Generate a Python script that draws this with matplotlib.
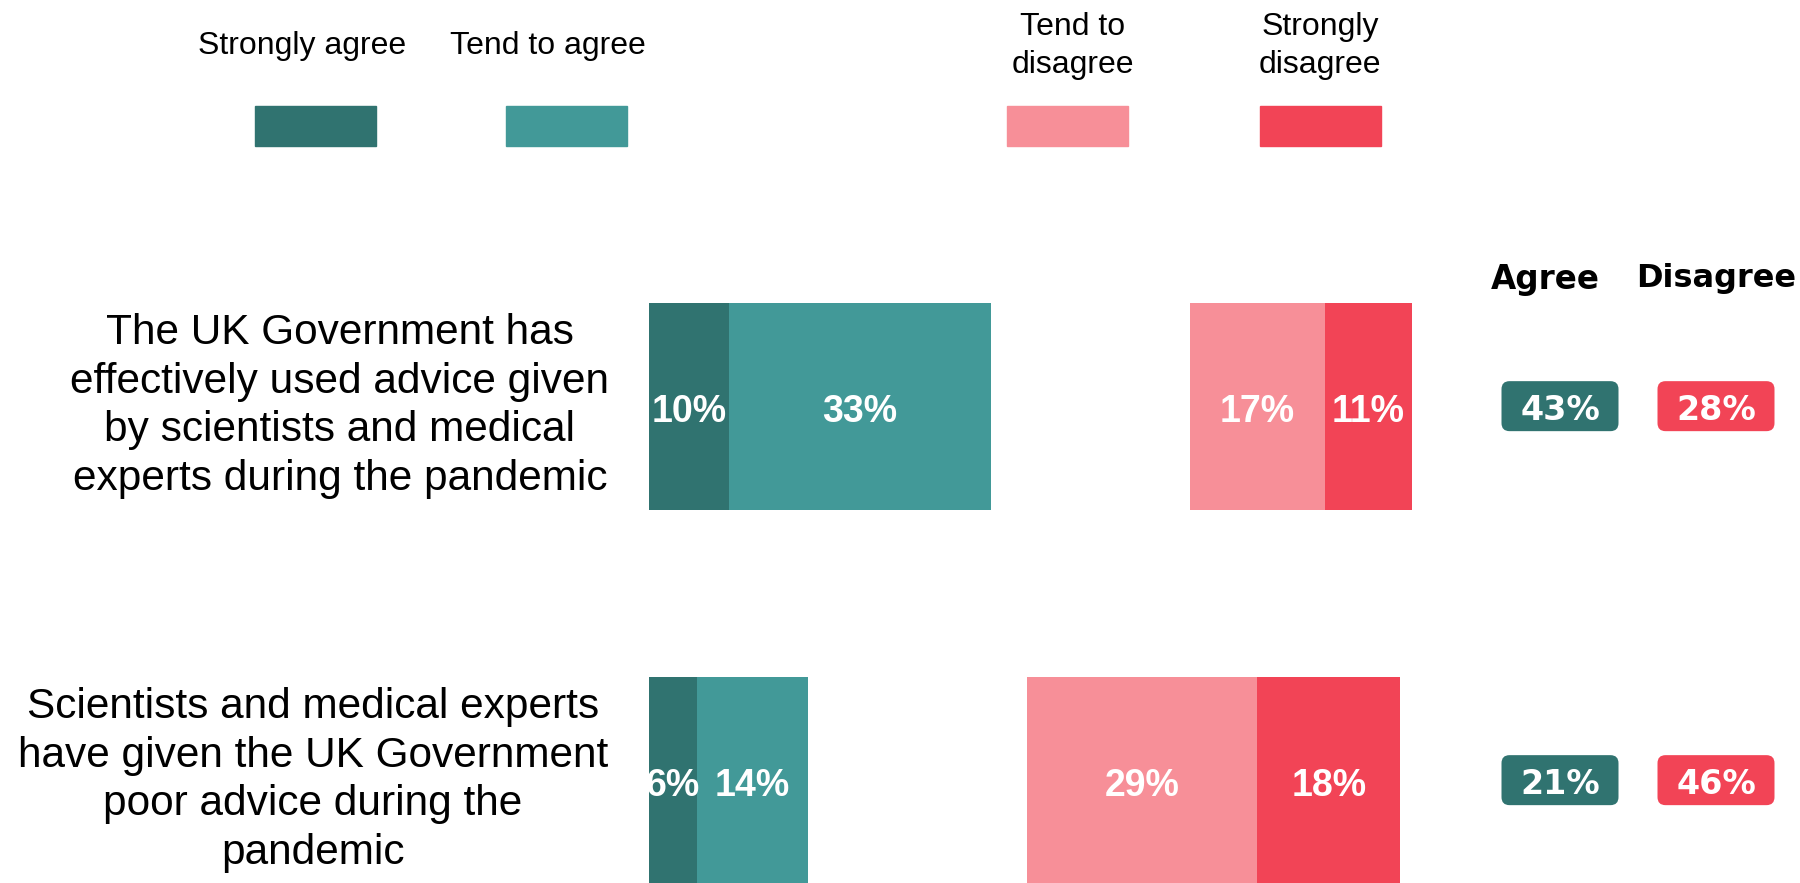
import numpy as np
import matplotlib.pyplot as plt
from matplotlib.patches import Rectangle, FancyBboxPatch
from matplotlib.transforms import blended_transform_factory

# data
questions = ['The UK Government has\neffectively used advice given\nby scientists and medical\nexperts during the pandemic',
             'Scientists and medical experts\nhave given the UK Government\npoor advice during the\npandemic']
categories = ['Strongly agree', 'Tend to agree', 'Tend to\ndisagree', 'Strongly\ndisagree']
strongly_agree = [10, 6]
tend_agree = [33, 14]
neither = [25, 27.5]  # not shown, leaves the gap
tend_disagree = [17, 29]
strongly_disagree = [11, 18]
net_agree = [43, 21]
net_disagree = [28, 46]

colors = ['#307370', '#429998', '#F78F98', '#F24456']

W, H = 1800, 883
fig = plt.figure(figsize=(18, 8.83), dpi=100)
plt.rcParams['font.family'] = ['Liberation Sans', 'DejaVu Sans']

# bar axes
ax = fig.add_axes([649 / W, 0, 795 / W, 1])
ax.set_xlim(0, 100)
ax.set_ylim(-0.275, 2.086)
ax.axis('off')

ypos = np.array([1, 0])
segments = [strongly_agree, tend_agree, neither, tend_disagree, strongly_disagree]
seg_colors = [colors[0], colors[1], None, colors[2], colors[3]]
left = np.zeros(2)
for vals, c in zip(segments, seg_colors):
    vals = np.array(vals)
    if c is not None:
        ax.barh(ypos, vals, left=left, height=0.553, color=c)
        for y, l, v in zip(ypos, left, vals):
            ax.text(l + v / 2, y - 0.016, f'{v}%', ha='center', va='center', color='white',
                    fontsize=27, fontweight='bold', clip_on=True)
    left += vals

# overlay for legend and side items
ov = fig.add_axes([0, 0, 1, 1])
ov.set_xlim(0, W)
ov.set_ylim(H, 0)
ov.axis('off')

leg_sq_x = [255, 506, 1007, 1260]
leg_lab_x = [302, 548, 1073, 1320]
for cat, c, sx, lx in zip(categories, colors, leg_sq_x, leg_lab_x):
    ov.add_patch(Rectangle((sx, 106), 121, 40, color=c))
    ov.text(lx, 46, cat, ha='center', va='center', fontsize=23, linespacing=1.36)

# question labels
tq = blended_transform_factory(ov.transData, ax.transData)
for q, y, x in zip(questions, ypos, [340, 313]):
    ov.text(x, y, q, transform=tq, ha='center', va='center', fontsize=30.5, linespacing=1.28)

# net boxes
ov.text(1545, 279, 'Agree', ha='center', va='center', fontsize=23.5,
        fontweight='bold', family='DejaVu Sans')
ov.text(1716, 279, 'Disagree', ha='center', va='center', fontsize=23,
        fontweight='bold', family='DejaVu Sans')
bh = 50 / 374
for y, a, d in zip(ypos, net_agree, net_disagree):
    for cx, v, c in [(1560, a, colors[0]), (1716, d, colors[3])]:
        ov.add_patch(FancyBboxPatch((cx - 58.5, y - bh / 2), 117, bh, transform=tq,
                                    boxstyle='round,pad=0,rounding_size=8',
                                    mutation_aspect=bh / 50, color=c, lw=0))
        ov.text(cx, y - 0.012, f'{v}%', transform=tq, ha='center', va='center', color='white',
                fontsize=24, fontweight='bold', family='DejaVu Sans')

plt.savefig('out.png', dpi=100)
